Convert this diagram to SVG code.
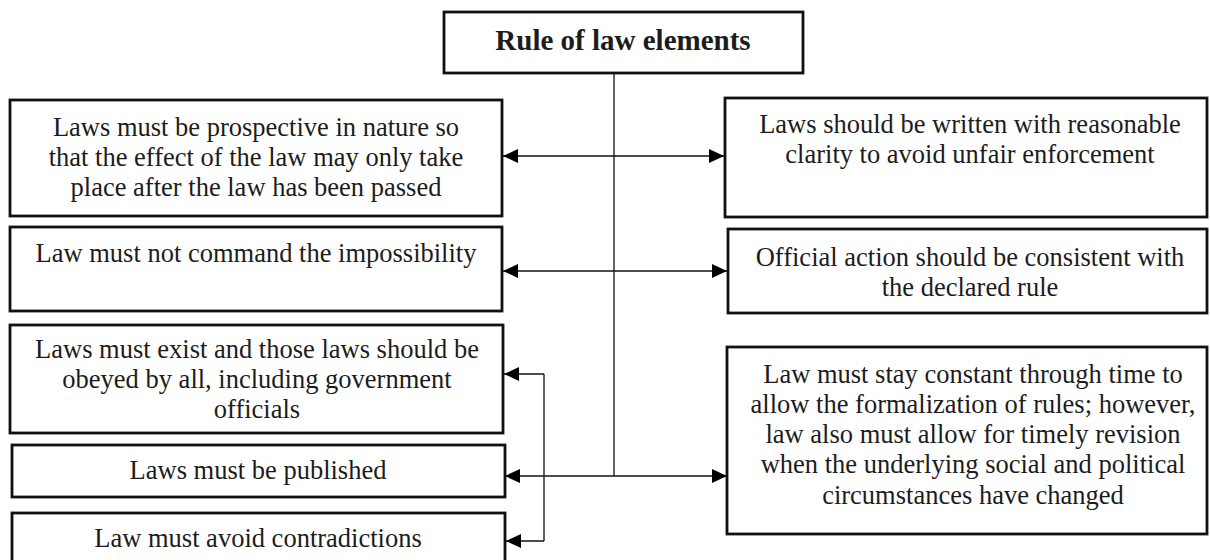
<svg xmlns="http://www.w3.org/2000/svg" width="1210" height="560" viewBox="0 0 1210 560">
<style>
.box{fill:#fff;stroke:#111;stroke-width:2.8}
.t{font-family:"Liberation Serif","Times New Roman",serif;font-size:26.5px;fill:#1c1c1c;text-anchor:middle}
.title{font-weight:bold;font-size:29px}
.c{fill:none;stroke:#111;stroke-width:1.3}
</style>
<defs>
<marker id="ah" viewBox="0 0 15 14" refX="15" refY="7" markerWidth="15" markerHeight="14" markerUnits="userSpaceOnUse" orient="auto-start-reverse">
<path d="M0,0 L15,7 L0,14 Z" fill="#000"/>
</marker>
</defs>
<rect width="1210" height="560" fill="#fff"/>
<g id="connectors">
<path class="c" d="M614,73 V476"/>
<path class="c" d="M503,156 H724" marker-start="url(#ah)" marker-end="url(#ah)"/>
<path class="c" d="M503,271 H727" marker-start="url(#ah)" marker-end="url(#ah)"/>
<path class="c" d="M505,476 H727" marker-start="url(#ah)" marker-end="url(#ah)"/>
<path class="c" d="M544,374 V541"/>
<path class="c" d="M544,374 H504" marker-end="url(#ah)"/>
<path class="c" d="M544,541 H506" marker-end="url(#ah)"/>
</g>
<g id="title">
<rect class="box" x="444" y="12" width="359" height="61"/>
<text class="t title" x="623" y="50">Rule of law elements</text>
</g>
<g id="left1">
<rect class="box" x="10" y="100" width="492" height="116"/>
<text class="t" x="256" y="136">Laws must be prospective in nature so</text>
<text class="t" x="256" y="166">that the effect of the law may only take</text>
<text class="t" x="256" y="196">place after the law has been passed</text>
</g>
<g id="left2">
<rect class="box" x="10" y="227" width="492" height="84"/>
<text class="t" x="256" y="262">Law must not command the impossibility</text>
</g>
<g id="left3">
<rect class="box" x="10" y="325" width="493" height="108"/>
<text class="t" x="257" y="358">Laws must exist and those laws should be</text>
<text class="t" x="257" y="388">obeyed by all, including government</text>
<text class="t" x="257" y="418">officials</text>
</g>
<g id="left4">
<rect class="box" x="12" y="445" width="493" height="52"/>
<text class="t" x="258" y="479">Laws must be published</text>
</g>
<g id="left5">
<rect class="box" x="12" y="513" width="493" height="60"/>
<text class="t" x="258" y="547">Law must avoid contradictions</text>
</g>
<g id="right1">
<rect class="box" x="725" y="98" width="482" height="119"/>
<text class="t" x="970" y="133">Laws should be written with reasonable</text>
<text class="t" x="970" y="163">clarity to avoid unfair enforcement</text>
</g>
<g id="right2">
<rect class="box" x="728" y="229" width="479" height="84"/>
<text class="t" x="970" y="266">Official action should be consistent with</text>
<text class="t" x="970" y="296">the declared rule</text>
</g>
<g id="right3">
<rect class="box" x="727" y="347" width="480" height="187"/>
<text class="t" x="973" y="383">Law must stay constant through time to</text>
<text class="t" x="973" y="413">allow the formalization of rules; however,</text>
<text class="t" x="973" y="443">law also must allow for timely revision</text>
<text class="t" x="973" y="473">when the underlying social and political</text>
<text class="t" x="973" y="504">circumstances have changed</text>
</g>
</svg>
